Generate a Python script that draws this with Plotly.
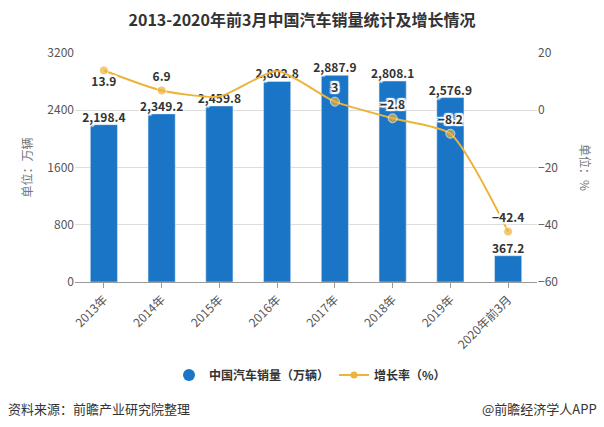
import plotly.graph_objects as go

categories = ["2013年", "2014年", "2015年", "2016年", "2017年", "2018年", "2019年", "2020年前3月"]
sales = [2198.4, 2349.2, 2459.8, 2802.8, 2887.9, 2808.1, 2576.9, 367.2]
growth = [13.9, 6.9, 4.8, 13.7, 3.0, -2.8, -8.2, -42.4]
growth_labels = ["13.9", "6.9", "", "", "3", "−2.8", "−8.2", "−42.4"]
growth_pos = ["bottom center", "top center", "top center", "top center", "top center", "top center", "top center", "top center"]
marker_sizes = [9, 9, 0, 0, 9, 9, 9, 9]  # 2015/2016 points are hidden under the bar labels

FONT = "Noto Sans CJK SC, Microsoft YaHei, sans-serif"
BLUE = "#1A75C6"
ORANGE = "#EDB33A"
HALO = ("2px 0 1px white, -2px 0 1px white, 0 2px 1px white, 0 -2px 1px white, "
        "2px 2px 1px white, -2px -2px 1px white, 2px -2px 1px white, -2px 2px 1px white")

fig = go.Figure()
fig.add_trace(go.Bar(
    x=categories, y=sales, marker_color=BLUE, width=0.47,
    showlegend=False, yaxis="y", hoverinfo="x+y",
))
fig.add_trace(go.Scatter(
    x=categories, y=growth, mode="lines+markers+text", yaxis="y2",
    line=dict(color=ORANGE, width=2, shape="spline", smoothing=0.6),
    marker=dict(size=marker_sizes, color=ORANGE),
    text=growth_labels, textposition=growth_pos,
    textfont=dict(family=FONT, size=12, color="#333333", weight="bold", shadow=HALO),
    cliponaxis=False, showlegend=False,
))
# bar value labels drawn on top of the line
fig.add_trace(go.Scatter(
    x=categories, y=sales, mode="text", yaxis="y",
    text=[f"{v:,.1f}" for v in sales], textposition="top center",
    textfont=dict(family=FONT, size=12, color="#333333", weight="bold", shadow=HALO),
    cliponaxis=False, showlegend=False, hoverinfo="skip",
))
# legend-only traces
fig.add_trace(go.Scatter(x=[None], y=[None], mode="markers", name="中国汽车销量（万辆）",
                         marker=dict(size=12, color=BLUE, symbol="circle")))
fig.add_trace(go.Scatter(x=[None], y=[None], mode="lines+markers", name="增长率（%）",
                         line=dict(color=ORANGE, width=2), marker=dict(size=7, color=ORANGE), yaxis="y2"))

fig.update_layout(
    width=604, height=427,
    margin=dict(l=75, r=67, t=53, b=145),
    paper_bgcolor="white", plot_bgcolor="white",
    font=dict(family=FONT, size=12, color="#555555"),
    title=dict(text="<b>2013-2020年前3月中国汽车销量统计及增长情况</b>", x=0.5, xanchor="center",
               y=1 - 20 / 427, yanchor="middle", font=dict(size=16, color="#333333")),
    xaxis=dict(type="category", tickangle=-45, showgrid=False, showline=True, linecolor="#999999",
               ticks="outside", ticklen=5, tickcolor="#999999", tickfont=dict(size=12, color="#555555")),
    yaxis=dict(range=[0, 3200], tickvals=[0, 800, 1600, 2400, 3200], showgrid=True, gridcolor="#DDDDDD",
               zeroline=False, showline=False, tickfont=dict(size=12, color="#555555"),
               title=dict(text="单位：万辆", font=dict(size=12, color="#777777"), standoff=12)),
    yaxis2=dict(range=[-60, 20], tickvals=[-60, -40, -20, 0, 20], overlaying="y", side="right",
                showgrid=False, zeroline=False, showline=False, tickfont=dict(size=12, color="#555555")),
    legend=dict(orientation="h", x=(169 - 75) / 462, xanchor="left", y=-0.406, yanchor="middle",
                font=dict(size=12, color="#333333", weight="bold"), itemwidth=30, bgcolor="rgba(0,0,0,0)"),
    annotations=[
        dict(text="单位：%", xref="paper", yref="paper", x=(586 - 75) / 462, y=(282 - 167) / 229,
             xanchor="center", yanchor="middle", showarrow=False, textangle=90,
             font=dict(size=12, color="#777777")),
        dict(text="资料来源：前瞻产业研究院整理", xref="paper", yref="paper", x=(6 - 75) / 462,
             y=(282 - 408) / 229, xanchor="left", yanchor="middle", showarrow=False,
             font=dict(size=13, color="#333333")),
        dict(text="@前瞻经济学人APP", xref="paper", yref="paper", x=(599 - 75) / 462,
             y=(282 - 408) / 229, xanchor="right", yanchor="middle", showarrow=False,
             font=dict(size=13, color="#333333")),
    ],
)

fig.write_html("out.html")
